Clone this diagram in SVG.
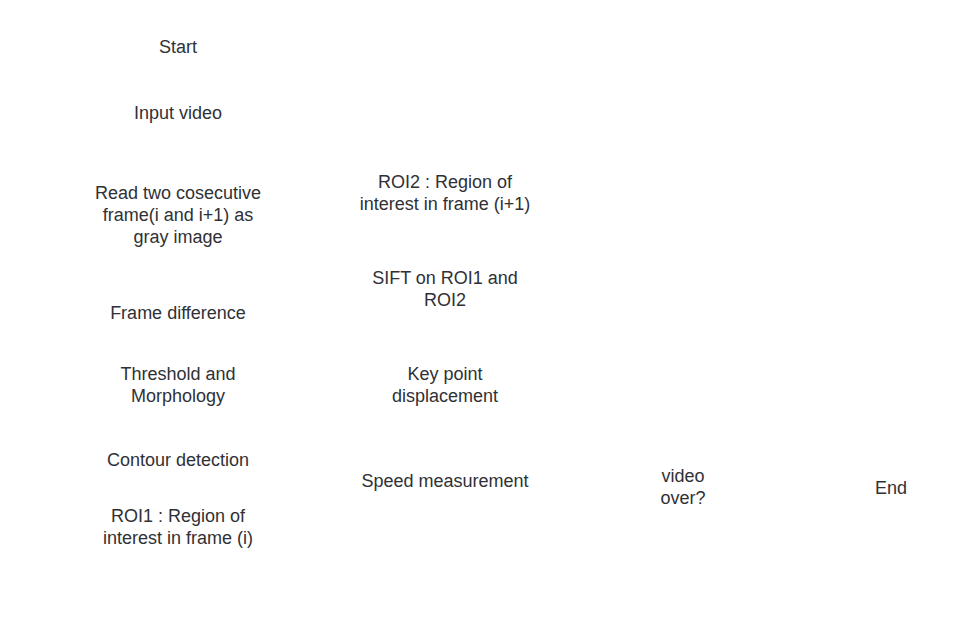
<svg xmlns="http://www.w3.org/2000/svg" width="974" height="623" viewBox="0 0 974 623">
<style>
text{font-family:"Liberation Sans",Arial,sans-serif;font-size:18px;fill:#2f3136;text-anchor:middle}
</style>
<rect width="974" height="623" fill="#ffffff"/>
<g id="connectors"></g>
<g id="start"><text x="178" y="53">Start</text></g>
<g id="input"><text x="178" y="119">Input video</text></g>
<g id="read"><text x="178" y="199">Read two cosecutive</text><text x="178" y="221">frame(i and i+1) as</text><text x="178" y="243">gray image</text></g>
<g id="framediff"><text x="178" y="319">Frame difference</text></g>
<g id="threshold"><text x="178" y="380">Threshold and</text><text x="178" y="402">Morphology</text></g>
<g id="contour"><text x="178" y="466">Contour detection</text></g>
<g id="roi1"><text x="178" y="522">ROI1 : Region of</text><text x="178" y="544">interest in frame (i)</text></g>
<g id="roi2"><text x="445" y="188">ROI2 : Region of</text><text x="445" y="210">interest in frame (i+1)</text></g>
<g id="sift"><text x="445" y="284">SIFT on ROI1 and</text><text x="445" y="306">ROI2</text></g>
<g id="keypoint"><text x="445" y="380">Key point</text><text x="445" y="402">displacement</text></g>
<g id="speed"><text x="445" y="487">Speed measurement</text></g>
<g id="videoover"><text x="683" y="482">video</text><text x="683" y="504">over?</text></g>
<g id="end"><text x="891" y="494">End</text></g>
</svg>
